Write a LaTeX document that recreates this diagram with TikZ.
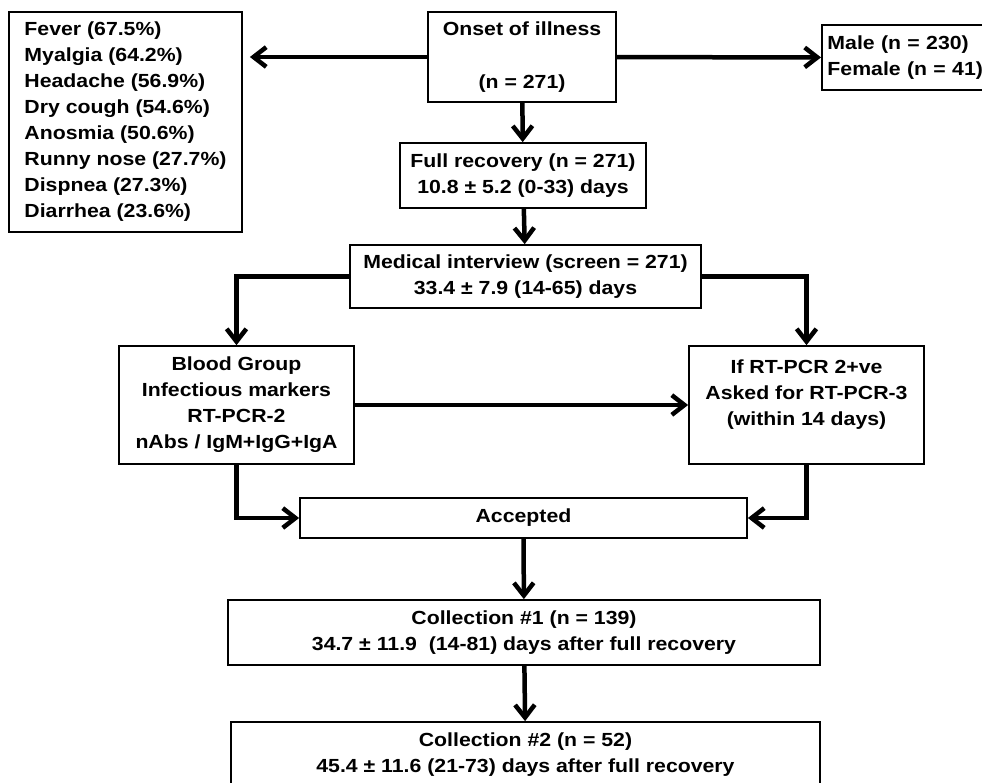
\documentclass[tikz,border=0pt]{standalone}
\usepackage{fontspec}
\setmainfont[FakeStretch=1.12]{Liberation Sans}
\usetikzlibrary{arrows.meta}
\tikzset{
  box/.style={draw,line width=1.2pt,align=center,inner sep=2pt,
    font=\bfseries\fontsize{13.5}{18.5}\selectfont},
  flow/.style={line width=3.2pt,-{Straight Barb[length=9pt,width=14pt]}}
}
\begin{document}
\begin{tikzpicture}[x=0.025cm,y=-0.025cm]
          \useasboundingbox (0,0) rectangle (982,783);
          \clip (0,0) rectangle (982,783);
          \fill[white] (0,0) rectangle (982,783);
          % boxes
          \node[box,minimum width=4.7cm,minimum height=2.25cm] (onset) at (522,57)
            {Onset of illness\\[19pt](n = 271)};
          \node[box,align=left,minimum width=5.825cm,minimum height=5.5cm] (symptoms) at (125.5,122)
            {Fever (67.5\%)\\Myalgia (64.2\%)\\Headache (56.9\%)\\Dry cough (54.6\%)\\
             Anosmia (50.6\%)\\Runny nose (27.7\%)\\Dispnea (27.3\%)\\Diarrhea (23.6\%)};
          \node[box,align=left,anchor=west,text width=3.9cm,inner xsep=4pt,minimum height=1.625cm] (sex) at (821,57.5)
            {Male (n = 230)\\Female (n = 41)};
          \node[box,minimum width=6.15cm,minimum height=1.625cm] (recovery) at (523,175.5)
            {Full recovery (n = 271)\\10.8 ± 5.2 (0-33) days};
          \node[box,minimum width=8.775cm,minimum height=1.575cm] (interview) at (525.5,276.5)
            {Medical interview (screen = 271)\\33.4 ± 7.9 (14-65) days};
          \node[box,minimum width=5.875cm,minimum height=2.95cm] (blood) at (236.5,405)
            {Blood Group\\Infectious markers\\RT-PCR-2\\nAbs / IgM+IgG+IgA};
          \node[box,minimum width=5.875cm,minimum height=2.95cm] (rtpcr) at (806.5,405)
            {If RT-PCR 2+ve\\Asked for RT-PCR-3\\(within 14 days)\\[-7pt]\strut};
          \node[box,minimum width=11.175cm,minimum height=1cm] (accepted) at (523.5,518)
            {Accepted};
          \node[box,minimum width=14.8cm,minimum height=1.625cm] (coll1) at (524,632.5)
            {Collection \#1 (n = 139)\\34.7 ± 11.9~ (14-81) days after full recovery};
          \node[box,minimum width=14.725cm,minimum height=1.625cm] (coll2) at (525.5,754.5)
            {Collection \#2 (n = 52)\\45.4 ± 11.6 (21-73) days after full recovery};
          % connectors
          \draw[flow,shorten >=5pt] (onset.west) -- (symptoms.east |- onset.west);
          \draw[flow] (onset) -- (sex);
          \draw[flow] (onset) -- (recovery);
          \draw[flow] (recovery) -- (interview);
          \draw[flow] (interview.west) -| (blood.north);
          \draw[flow] (interview.east) -| (rtpcr.north);
          \draw[flow] (blood) -- (rtpcr);
          \draw[flow] (blood.south) |- (accepted.west);
          \draw[flow] (rtpcr.south) |- (accepted.east);
          \draw[flow] (accepted) -- (coll1);
          \draw[flow] (coll1) -- (coll2);
        \end{tikzpicture}
\end{document}
